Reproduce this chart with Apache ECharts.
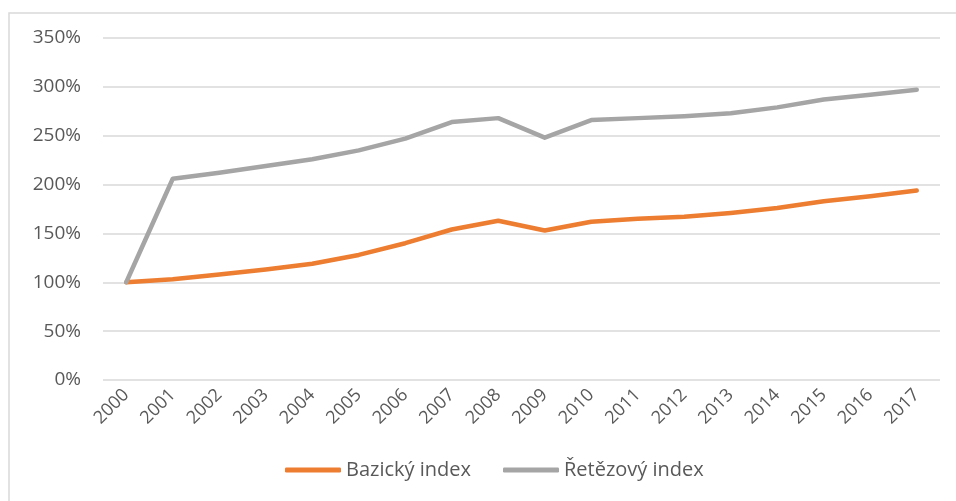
<!DOCTYPE html>
<html>
<head>
<meta charset="utf-8">
<script src="https://cdn.jsdelivr.net/npm/echarts@6/dist/echarts.min.js"></script>
<style>
  html, body { margin: 0; padding: 0; background: #fff; }
  #chart { width: 956px; height: 501px; }
</style>
</head>
<body>
<div id="chart"></div>
<script>
  // roky
  const years = ['2000', '2001', '2002', '2003', '2004', '2005', '2006', '2007', '2008',
    '2009', '2010', '2011', '2012', '2013', '2014', '2015', '2016', '2017'];
  // hodnoty v %
  const bazicky = [100, 103, 108, 113, 119, 128, 140, 154, 163, 153, 162, 165, 167, 171, 176, 183, 188, 194];
  const retezovy = [100, 206, 212, 219, 226, 235, 247, 264, 268, 248, 266, 268, 270, 273, 279, 287, 292, 297];
  const yTicks = [0, 50, 100, 150, 200, 250, 300, 350];

  const textColor = '#595959';
  const fontFamily = 'Open Sans';

  let chart = echarts.init(document.getElementById('chart'));
  let option = {
    animation: false,
    color: ['#ED7D31', '#A5A5A5'],
    graphic: [{
      type: 'rect',
      shape: { x: 9, y: 13, width: 1000, height: 600 },
      style: { fill: 'none', stroke: '#D9D9D9', lineWidth: 1.5 },
      silent: true
    }],
    grid: {
      left: 103,
      right: 16,
      top: 38,
      bottom: 121
    },
    legend: {
      left: 280,
      bottom: 16,
      icon: 'roundRect',
      itemWidth: 56,
      itemHeight: 5,
      itemGap: 32,
      textStyle: { color: textColor, fontSize: 20, fontFamily: fontFamily },
      data: ['Bazický index', 'Řetězový index']
    },
    xAxis: {
      type: 'category',
      data: years,
      boundaryGap: true,
      axisLine: { show: false },
      axisTick: { show: false },
      axisLabel: {
        rotate: 45,
        interval: 0,
        margin: 12,
        color: textColor,
        fontSize: 18,
        fontFamily: fontFamily
      }
    },
    yAxis: {
      type: 'value',
      min: yTicks[0],
      max: yTicks[yTicks.length - 1],
      interval: 50,
      axisLine: { show: false },
      axisTick: { show: false },
      splitLine: { lineStyle: { color: '#D9D9D9', width: 1.5 } },
      axisLabel: {
        margin: 22,
        color: textColor,
        fontSize: 19,
        fontFamily: fontFamily,
        formatter: '{value}%'
      }
    },
    series: [{
      name: 'Bazický index',
      type: 'line',
      data: bazicky,
      showSymbol: false,
      lineStyle: { width: 4.5, cap: 'round', join: 'round' }
    }, {
      name: 'Řetězový index',
      type: 'line',
      data: retezovy,
      showSymbol: false,
      lineStyle: { width: 4.5, cap: 'round', join: 'round' }
    }]
  };
  chart.setOption(option);
  window.addEventListener('resize', function () {
    chart.resize();
  });
</script>
</body>
</html>
